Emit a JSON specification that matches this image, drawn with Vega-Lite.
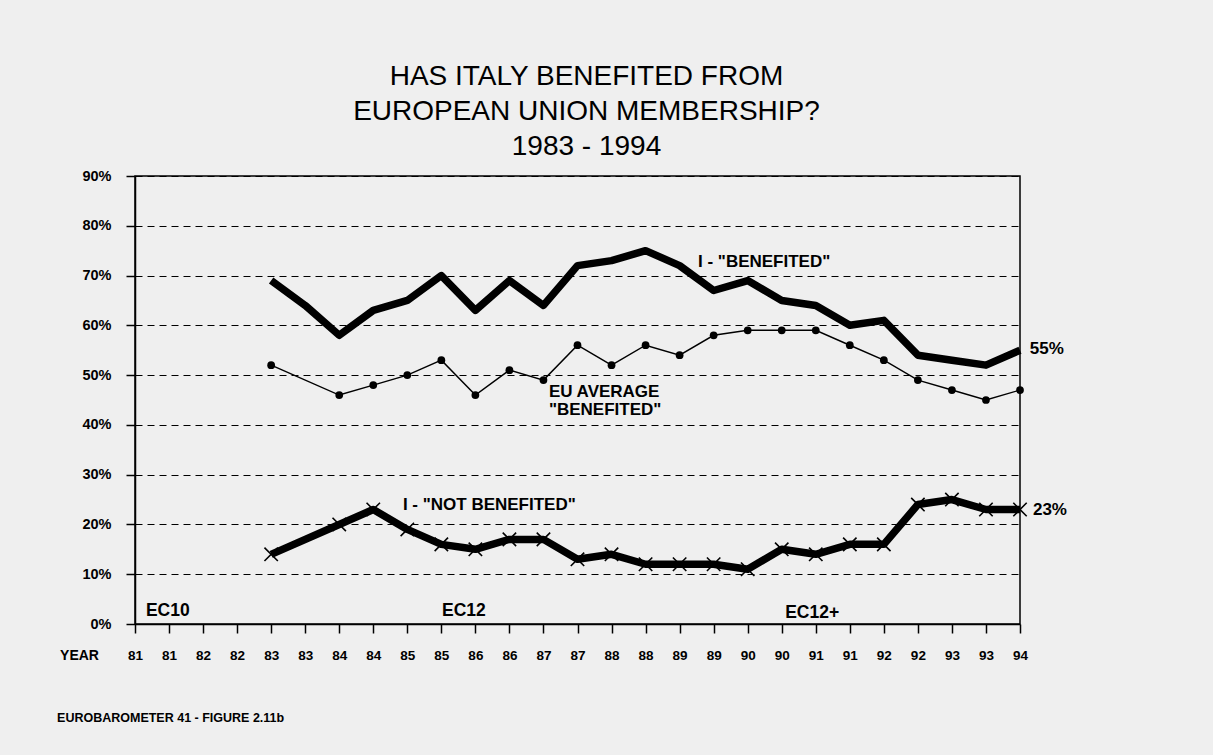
{
  "$schema": "https://vega.github.io/schema/vega-lite/v6.json",
  "width": 885,
  "height": 448,
  "autosize": {"type": "none"},
  "padding": {"left": 135, "top": 176, "right": 193, "bottom": 131},
  "background": "#efefef",
  "title": {
    "text": ["HAS ITALY BENEFITED FROM", "EUROPEAN UNION MEMBERSHIP?", "1983 - 1994"],
    "font": "Liberation Sans",
    "fontSize": 28,
    "fontWeight": "normal",
    "lineHeight": 35,
    "anchor": "middle",
    "dx": 9,
    "offset": 7,
    "color": "black"
  },
  "datasets": {
    "series": [
      {"idx": 4, "series": "Benefited", "value": 69},
      {"idx": 5, "series": "Benefited", "value": 64},
      {"idx": 6, "series": "Benefited", "value": 58},
      {"idx": 7, "series": "Benefited", "value": 63},
      {"idx": 8, "series": "Benefited", "value": 65},
      {"idx": 9, "series": "Benefited", "value": 70},
      {"idx": 10, "series": "Benefited", "value": 63},
      {"idx": 11, "series": "Benefited", "value": 69},
      {"idx": 12, "series": "Benefited", "value": 64},
      {"idx": 13, "series": "Benefited", "value": 72},
      {"idx": 14, "series": "Benefited", "value": 73},
      {"idx": 15, "series": "Benefited", "value": 75},
      {"idx": 16, "series": "Benefited", "value": 72},
      {"idx": 17, "series": "Benefited", "value": 67},
      {"idx": 18, "series": "Benefited", "value": 69},
      {"idx": 19, "series": "Benefited", "value": 65},
      {"idx": 20, "series": "Benefited", "value": 64},
      {"idx": 21, "series": "Benefited", "value": 60},
      {"idx": 22, "series": "Benefited", "value": 61},
      {"idx": 23, "series": "Benefited", "value": 54},
      {"idx": 24, "series": "Benefited", "value": 53},
      {"idx": 25, "series": "Benefited", "value": 52},
      {"idx": 26, "series": "Benefited", "value": 55},
      {"idx": 4, "series": "EU", "value": 52},
      {"idx": 6, "series": "EU", "value": 46},
      {"idx": 7, "series": "EU", "value": 48},
      {"idx": 8, "series": "EU", "value": 50},
      {"idx": 9, "series": "EU", "value": 53},
      {"idx": 10, "series": "EU", "value": 46},
      {"idx": 11, "series": "EU", "value": 51},
      {"idx": 12, "series": "EU", "value": 49},
      {"idx": 13, "series": "EU", "value": 56},
      {"idx": 14, "series": "EU", "value": 52},
      {"idx": 15, "series": "EU", "value": 56},
      {"idx": 16, "series": "EU", "value": 54},
      {"idx": 17, "series": "EU", "value": 58},
      {"idx": 18, "series": "EU", "value": 59},
      {"idx": 19, "series": "EU", "value": 59},
      {"idx": 20, "series": "EU", "value": 59},
      {"idx": 21, "series": "EU", "value": 56},
      {"idx": 22, "series": "EU", "value": 53},
      {"idx": 23, "series": "EU", "value": 49},
      {"idx": 24, "series": "EU", "value": 47},
      {"idx": 25, "series": "EU", "value": 45},
      {"idx": 26, "series": "EU", "value": 47},
      {"idx": 4, "series": "NotBenefited", "value": 14},
      {"idx": 6, "series": "NotBenefited", "value": 20},
      {"idx": 7, "series": "NotBenefited", "value": 23},
      {"idx": 8, "series": "NotBenefited", "value": 19},
      {"idx": 9, "series": "NotBenefited", "value": 16},
      {"idx": 10, "series": "NotBenefited", "value": 15},
      {"idx": 11, "series": "NotBenefited", "value": 17},
      {"idx": 12, "series": "NotBenefited", "value": 17},
      {"idx": 13, "series": "NotBenefited", "value": 13},
      {"idx": 14, "series": "NotBenefited", "value": 14},
      {"idx": 15, "series": "NotBenefited", "value": 12},
      {"idx": 16, "series": "NotBenefited", "value": 12},
      {"idx": 17, "series": "NotBenefited", "value": 12},
      {"idx": 18, "series": "NotBenefited", "value": 11},
      {"idx": 19, "series": "NotBenefited", "value": 15},
      {"idx": 20, "series": "NotBenefited", "value": 14},
      {"idx": 21, "series": "NotBenefited", "value": 16},
      {"idx": 22, "series": "NotBenefited", "value": 16},
      {"idx": 23, "series": "NotBenefited", "value": 24},
      {"idx": 24, "series": "NotBenefited", "value": 25},
      {"idx": 25, "series": "NotBenefited", "value": 23},
      {"idx": 26, "series": "NotBenefited", "value": 23}
    ],
    "notes": [
      {"kind": "note", "x": 16.54, "y": 72.7, "label": "I - \"BENEFITED\""},
      {"kind": "note", "x": 12.16, "y": 46.6, "label": "EU AVERAGE"},
      {"kind": "note", "x": 12.16, "y": 43.0, "label": "\"BENEFITED\""},
      {"kind": "note", "x": 7.87, "y": 23.9, "label": "I - \"NOT BENEFITED\""},
      {"kind": "end", "x": 26.29, "y": 55.2, "label": "55%"},
      {"kind": "end", "x": 26.38, "y": 22.9, "label": "23%"},
      {"kind": "ec", "x": 0.32, "y": 2.6, "label": "EC10"},
      {"kind": "ec", "x": 9.02, "y": 2.6, "label": "EC12"},
      {"kind": "ec", "x": 19.1, "y": 2.2, "label": "EC12+"},
      {"kind": "footer", "x": -2.29, "y": -18.9, "label": "EUROBAROMETER 41 - FIGURE 2.11b"}
    ]
  },
  "encoding": {
    "x": {
      "field": "idx",
      "type": "quantitative",
      "scale": {"domain": [0, 26], "nice": false, "zero": false},
      "axis": {
        "values": [0, 1, 2, 3, 4, 5, 6, 7, 8, 9, 10, 11, 12, 13, 14, 15, 16, 17, 18, 19, 20, 21, 22, 23, 24, 25, 26],
        "labelExpr": "['81','81','82','82','83','83','84','84','85','85','86','86','87','87','88','88','89','89','90','90','91','91','92','92','93','93','94'][datum.value]",
        "grid": false,
        "tickSize": 9,
        "labelPadding": 15,
        "labelFlush": false,
        "labelOverlap": false,
        "domainColor": "black",
        "domainWidth": 1.5,
        "tickColor": "black",
        "tickWidth": 1.5,
        "labelFont": "Liberation Sans",
        "labelFontWeight": "bold",
        "labelFontSize": 13.5,
        "labelColor": "black",
        "title": "YEAR",
        "titleX": -56,
        "titleY": 31,
        "titleAlign": "center",
        "titleBaseline": "middle",
        "titleFont": "Liberation Sans",
        "titleFontSize": 14,
        "titleFontWeight": "bold",
        "titleColor": "black"
      }
    },
    "y": {
      "field": "value",
      "type": "quantitative",
      "scale": {"domain": [0, 90], "nice": false},
      "axis": {
        "values": [0, 10, 20, 30, 40, 50, 60, 70, 80, 90],
        "labelExpr": "datum.value + '%'",
        "grid": true,
        "gridDash": [7, 5],
        "gridColor": "black",
        "gridWidth": 1,
        "gridOpacity": 1,
        "tickSize": 9,
        "labelPadding": 15,
        "domainColor": "black",
        "domainWidth": 1.5,
        "tickColor": "black",
        "tickWidth": 1.5,
        "labelFont": "Liberation Sans",
        "labelFontWeight": "bold",
        "labelFontSize": 14.5,
        "labelColor": "black",
        "title": null
      }
    }
  },
  "layer": [
    {
      "data": {"name": "series"},
      "transform": [{"filter": "datum.series === 'Benefited'"}],
      "mark": {"type": "line", "color": "black", "strokeWidth": 7.5, "strokeJoin": "round", "strokeCap": "butt"}
    },
    {
      "data": {"name": "series"},
      "transform": [{"filter": "datum.series === 'EU'"}],
      "mark": {"type": "line", "color": "black", "strokeWidth": 1.4}
    },
    {
      "data": {"name": "series"},
      "transform": [{"filter": "datum.series === 'EU'"}],
      "mark": {"type": "point", "shape": "circle", "filled": true, "color": "black", "size": 60, "opacity": 1}
    },
    {
      "data": {"name": "series"},
      "transform": [{"filter": "datum.series === 'NotBenefited'"}],
      "mark": {"type": "line", "color": "black", "strokeWidth": 7.5, "strokeJoin": "round", "strokeCap": "butt"}
    },
    {
      "data": {"name": "series"},
      "transform": [{"filter": "datum.series === 'NotBenefited'"}],
      "mark": {"type": "point", "shape": "M-1,-1L1,1M-1,1L1,-1", "filled": false, "stroke": "black", "strokeWidth": 1.6, "size": 180, "opacity": 1}
    },
    {
      "data": {"name": "notes"},
      "transform": [{"filter": "datum.kind === 'note'"}],
      "mark": {"type": "text", "align": "left", "baseline": "middle", "font": "Liberation Sans", "fontWeight": "bold", "fontSize": 17, "color": "black"},
      "encoding": {
        "x": {"field": "x", "type": "quantitative"},
        "y": {"field": "y", "type": "quantitative"},
        "text": {"field": "label"}
      }
    },
    {
      "data": {"name": "notes"},
      "transform": [{"filter": "datum.kind === 'end'"}],
      "mark": {"type": "text", "align": "left", "baseline": "middle", "font": "Liberation Sans", "fontWeight": "bold", "fontSize": 17, "color": "black"},
      "encoding": {
        "x": {"field": "x", "type": "quantitative"},
        "y": {"field": "y", "type": "quantitative"},
        "text": {"field": "label"}
      }
    },
    {
      "data": {"name": "notes"},
      "transform": [{"filter": "datum.kind === 'ec'"}],
      "mark": {"type": "text", "align": "left", "baseline": "middle", "font": "Liberation Sans", "fontWeight": "bold", "fontSize": 17.5, "color": "black"},
      "encoding": {
        "x": {"field": "x", "type": "quantitative"},
        "y": {"field": "y", "type": "quantitative"},
        "text": {"field": "label"}
      }
    },
    {
      "data": {"name": "notes"},
      "transform": [{"filter": "datum.kind === 'footer'"}],
      "mark": {"type": "text", "align": "left", "baseline": "middle", "font": "Liberation Sans", "fontWeight": "bold", "fontSize": 12.5, "color": "black"},
      "encoding": {
        "x": {"field": "x", "type": "quantitative"},
        "y": {"field": "y", "type": "quantitative"},
        "text": {"field": "label"}
      }
    }
  ],
  "config": {
    "view": {"stroke": "black", "strokeWidth": 1.5},
    "text": {"font": "Liberation Sans"}
  }
}
